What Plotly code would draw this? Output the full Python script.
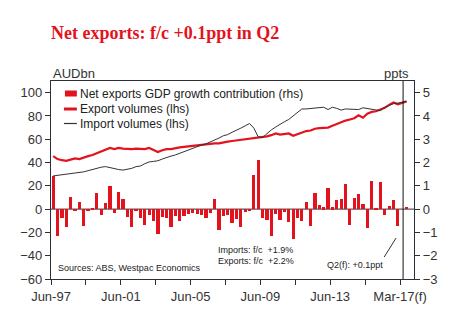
import plotly.graph_objects as go

# Quarterly slots starting Jun-97; slot 80 is left open before the Q2-17 forecast bar
quarter_idx = list(range(82))

# Net exports contribution to GDP growth, ppts (rhs)
net_exports_ppt = [
    1.43, -1.15, -0.36, -0.77, 0.50, -0.10, 0.32, -0.73, -0.10, 0.05,
    0.69, -0.27, 0.27, 1.00, -0.17, 0.73, 0.43, -0.32, -0.77, -0.10,
    -0.36, -0.70, -0.27, -0.53, -1.05, -0.32, -0.40, -0.75, -0.29, -0.50,
    -0.30, -0.19, -0.17, -0.20, -0.24, -0.36, -0.17, 0.42, -0.89, -0.30,
    -0.27, -0.60, -0.42, -0.75, -0.13, -0.10, 1.48, 2.09, -0.36, -0.46,
    -1.15, -0.21, -0.46, -0.13, -0.57, -1.28, -0.36, -0.53, 0.29, -0.72,
    0.69, 0.19, 0.07, 0.90, 0.07, 0.39, 0.43, 1.07, -0.67, 0.46,
    0.66, 0.22, -0.82, 1.19, 0.02, 1.16, -0.27, 0.13, 0.39, -0.72,
    None, 0.10,
]

# Export and import volumes, AUDbn (lhs)
export_volumes = [
    45.5, 43.0, 42.0, 41.5, 42.5, 43.5, 43.0, 44.5, 45.5, 46.5,
    48.0, 49.0, 50.5, 52.5, 51.5, 52.5, 52.0, 51.5, 51.5, 52.0,
    52.0, 51.5, 52.5, 51.0, 49.0, 50.5, 51.5, 51.5, 52.5, 53.0,
    53.5, 54.0, 54.5, 55.0, 55.5, 55.5, 56.0, 56.5, 56.5, 57.5,
    58.0, 58.5, 59.0, 59.5, 60.0, 60.0, 60.5, 61.0, 61.5, 62.5,
    63.5, 65.0, 64.0, 64.5, 65.0, 63.0, 64.5, 66.0, 67.0, 67.5,
    69.0, 69.5, 70.0, 70.0, 71.5, 73.0, 75.0, 76.0, 77.0, 78.0,
    80.5, 78.5, 82.0, 83.5, 84.0, 85.5, 87.0, 89.5, 91.5, 90.0,
    91.5, 92.5,
]
import_volumes = [
    28.5, 29.0, 29.5, 30.0, 30.5, 30.5, 31.0, 32.0, 33.0, 34.0,
    35.5, 36.0, 36.5, 35.5, 34.5, 34.0, 33.5, 34.0, 35.0, 36.5,
    37.0, 39.0, 40.5, 41.0, 41.5, 43.0, 44.5, 45.5, 46.5, 48.0,
    49.5, 51.0, 52.5, 53.5, 55.0, 56.0, 57.5, 59.5, 61.0, 63.0,
    64.0, 66.0, 67.5, 69.5, 71.5, 73.5, 69.5, 62.0, 61.5, 65.0,
    68.0, 70.5, 73.0, 75.0, 77.0, 80.0, 83.0, 86.0, 86.0, 86.5,
    87.0, 87.5, 87.5, 85.5, 87.5, 86.5, 85.0, 86.0, 86.0, 85.5,
    85.5, 87.0, 86.5, 86.0, 85.0, 84.5, 87.5, 89.0, 90.5, 91.0,
    91.5, 92.5,
]

# Ticks every eight quarters, on slot boundaries
tick_pos = [-0.5 + 8 * k for k in range(11)]
tick_text = ["Jun-97", "", "Jun-01", "", "Jun-05", "", "Jun-09", "", "Jun-13", "", "Mar-17(f)"]
forecast_divider = 80.2

RED = "#E3131E"
DARK = "#2E2E38"
FONT = "Liberation Sans, Arial, sans-serif"

# plot-area geometry in pixels
W_FIG, H_FIG = 450, 330
L, R, T, B = 51, 416, 81, 279


def px(xp):
    return (xp - L) / (R - L)


def py(yp):
    return (B - yp) / (B - T)


fig = go.Figure()

fig.add_trace(go.Bar(
    x=quarter_idx, y=net_exports_ppt, yaxis="y2",
    marker=dict(color=RED, line=dict(width=0)), width=0.74,
    name="Net exports GDP growth contribution (rhs)",
))
fig.add_trace(go.Scatter(
    x=quarter_idx, y=export_volumes, mode="lines",
    line=dict(color=RED, width=2.2), name="Export volumes (lhs)",
))
fig.add_trace(go.Scatter(
    x=quarter_idx, y=import_volumes, mode="lines",
    line=dict(color="#333333", width=1), name="Import volumes (lhs)",
))

shapes = [
    # zero line
    dict(type="line", xref="paper", yref="y2", x0=0, x1=1, y0=0, y1=0,
         line=dict(color=DARK, width=1), layer="below"),
    # actual / forecast divider
    dict(type="line", xref="x", yref="paper", x0=forecast_divider, x1=forecast_divider,
         y0=0, y1=1, line=dict(color="#111111", width=1)),
    # legend swatches
    dict(type="rect", xref="paper", yref="paper", x0=px(65), x1=px(77),
         y0=py(96.5), y1=py(90.5), fillcolor=RED, line=dict(width=0)),
    dict(type="line", xref="paper", yref="paper", x0=px(64), x1=px(77),
         y0=py(109), y1=py(109), line=dict(color=RED, width=3)),
    dict(type="line", xref="paper", yref="paper", x0=px(64), x1=px(77),
         y0=py(123.5), y1=py(123.5), line=dict(color="#333333", width=1.2)),
    # pointer to the forecast bar
    dict(type="line", xref="paper", yref="paper", x0=px(386), x1=px(398),
         y0=py(257), y1=py(238), line=dict(color="#333333", width=1)),
]


def note(xp, yp, text, size, anchor="left", color="#222222", family=FONT, bold=False):
    return dict(
        xref="paper", yref="paper", x=px(xp), y=py(yp), text=f"<b>{text}</b>" if bold else text,
        showarrow=False, xanchor=anchor, yanchor="middle",
        font=dict(size=size, color=color, family=family),
    )


annotations = [
    note(49, 33, "Net exports: f/c +0.1ppt in Q2", 18, color=RED,
         family="Liberation Serif, Times New Roman, serif", bold=True),
    note(51, 73, "AUDbn", 13, color="#333333"),
    note(413, 73, "ppts", 13, anchor="right", color="#333333"),
    note(78, 93.5, "Net exports GDP growth contribution (rhs)", 12),
    note(78, 109, "Export volumes (lhs)", 12),
    note(78, 124, "Import volumes (lhs)", 12),
    note(56, 268, "Sources: ABS, Westpac Economics", 9),
    note(217, 249.5, "Imports: f/c&nbsp;&nbsp;+1.9%", 9),
    note(217, 261, "Exports: f/c&nbsp;&nbsp;+2.2%", 9),
    note(327, 264.5, "Q2(f): +0.1ppt", 9),
]

fig.update_layout(
    width=W_FIG, height=H_FIG,
    margin=dict(l=L, r=W_FIG - R, t=T, b=H_FIG - B, pad=0),
    paper_bgcolor="white", plot_bgcolor="white",
    showlegend=False, bargap=0,
    font=dict(family=FONT, size=13, color="#333333"),
    xaxis=dict(
        range=[-0.5, 82.7], tickmode="array", tickvals=tick_pos, ticktext=tick_text,
        ticks="outside", ticklen=5, tickcolor=DARK, tickwidth=1,
        showline=True, linecolor=DARK, linewidth=1, mirror=True,
        showgrid=False, zeroline=False, tickfont=dict(size=13),
    ),
    yaxis=dict(
        range=[-60, 110], tickmode="array", tickvals=list(range(-60, 101, 20)),
        ticks="outside", ticklen=5, tickcolor=DARK, tickwidth=1,
        showline=True, linecolor=DARK, linewidth=1.2,
        showgrid=False, zeroline=False, tickfont=dict(size=13),
    ),
    yaxis2=dict(
        range=[-3, 5.5], tickmode="array", tickvals=list(range(-3, 6)),
        overlaying="y", side="right",
        ticks="outside", ticklen=5, tickcolor=DARK, tickwidth=1,
        showline=True, linecolor=DARK, linewidth=1.2,
        showgrid=False, zeroline=False, tickfont=dict(size=13),
    ),
    shapes=shapes,
    annotations=annotations,
)

fig.write_html("out.html")
